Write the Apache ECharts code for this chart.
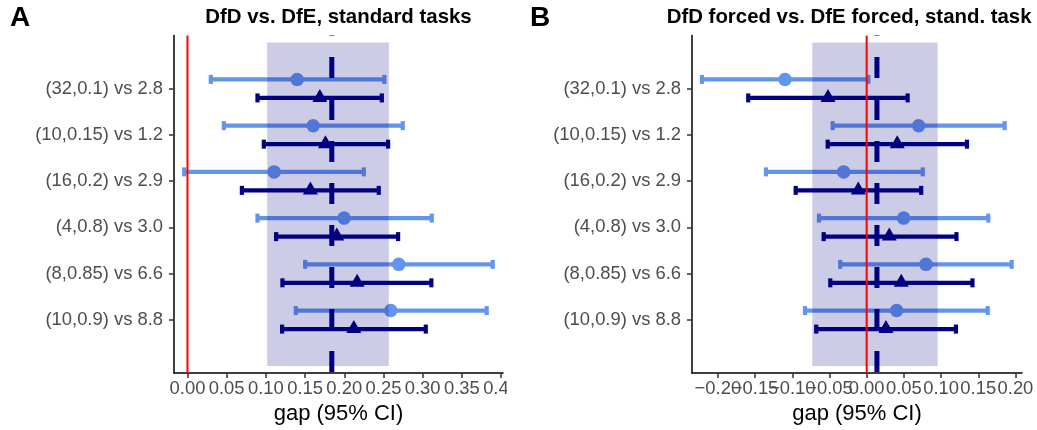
<!DOCTYPE html>
<html>
<head>
<meta charset="utf-8">
<script src="https://cdn.jsdelivr.net/npm/echarts@6/dist/echarts.min.js"></script>
<style>
  html, body { margin: 0; padding: 0; background: #fff; }
  #chart { width: 1037px; height: 430px; }
</style>
</head>
<body>
<div id="chart"></div>
<script>
// Comparisons, listed top to bottom
const rowLabels = ["(32,0.1) vs 2.8", "(10,0.15) vs 1.2", "(16,0.2) vs 2.9",
                   "(4,0.8) vs 3.0", "(8,0.85) vs 6.6", "(10,0.9) vs 8.8"];

// Panel A: DfD vs. DfE, standard tasks
const aLightLo  = [0.0298, 0.0464, -0.0042, 0.0893, 0.1501, 0.1382];
const aLightEst = [0.1399, 0.1603, 0.1105, 0.1998, 0.2695, 0.2593];
const aLightHi  = [0.2512, 0.2746, 0.2249, 0.3116, 0.3894, 0.3817];
const aDarkLo   = [0.0893, 0.0974, 0.0694, 0.1131, 0.1211, 0.1207];
const aDarkEst  = [0.1688, 0.1760, 0.1568, 0.1905, 0.2164, 0.2122];
const aDarkHi   = [0.2479, 0.2559, 0.2440, 0.2687, 0.3111, 0.3040];
const aBand = [0.1016, 0.2568];
const aMean = 0.1841;
const aTicks = [0, 0.05, 0.10, 0.15, 0.20, 0.25, 0.30, 0.35, 0.40];

// Panel B: DfD forced vs. DfE forced, standard task
const bLightLo  = [-0.2214, -0.0457, -0.1354, -0.0641, -0.0355, -0.0829];
const bLightEst = [-0.1098, 0.0699, -0.0309, 0.0497, 0.0797, 0.0403];
const bLightHi  = [0.0022, 0.1855, 0.0754, 0.1635, 0.1949, 0.1627];
const bDarkLo   = [-0.1592, -0.0524, -0.0954, -0.0578, -0.0489, -0.0678];
const bDarkEst  = [-0.0520, 0.0411, -0.0113, 0.0304, 0.0465, 0.0259];
const bDarkHi   = [0.0551, 0.1348, 0.0733, 0.1207, 0.1422, 0.1200];
const bBand = [-0.0731, 0.0954];
const bMean = 0.0138;
const bTicks = [-0.20, -0.15, -0.10, -0.05, 0, 0.05, 0.10, 0.15, 0.20];

// Axis limits
const xLimA = [-0.0172, 0.4025];
const xLimB = [-0.2348, 0.2088];
const yLim = [-1.15, 6.15];
const bandYSpan = [-1.0, 6.0];
const dodge = 0.2;

const LIGHT = '#6495ED';
const DARK = '#000080';
const FONT = '"Liberation Sans", Arial, Helvetica, sans-serif';
const TICK_FONT = 18.4;

const n = rowLabels.length;
const rowPos = i => n - 1 - i;

function barData(lo, est, hi, offset) {
  return lo.map((v, i) => [v, est[i], hi[i], rowPos(i) + offset]);
}
function pointData(est, offset) {
  return est.map((v, i) => [v, rowPos(i) + offset]);
}

function renderBar(params, api) {
  const y = api.value(3);
  const a = api.coord([api.value(0), y]);
  const b = api.coord([api.value(2), y]);
  const c = 4.5;
  const style = { stroke: api.visual('color'), lineWidth: 4.2, lineCap: 'butt' };
  return {
    type: 'group',
    children: [
      { type: 'line', shape: { x1: a[0], y1: a[1], x2: b[0], y2: b[1] }, style },
      { type: 'line', shape: { x1: a[0], y1: a[1] - c, x2: a[0], y2: a[1] + c }, style },
      { type: 'line', shape: { x1: b[0], y1: b[1] - c, x2: b[0], y2: b[1] + c }, style }
    ]
  };
}

function renderBand(params, api) {
  const p1 = api.coord([api.value(0), api.value(3)]);
  const p2 = api.coord([api.value(1), api.value(2)]);
  return {
    type: 'rect',
    shape: { x: p1[0], y: p1[1], width: p2[0] - p1[0], height: p2[1] - p1[1] },
    style: { fill: 'rgba(0,0,128,0.2)' }
  };
}

// Vertical reference line, drawn upward from the bottom of the panel
function makeVLine(width, color, dash) {
  return function (params, api) {
    const bottom = api.coord([api.value(0), api.value(1)]);
    const top = api.coord([api.value(0), api.value(2)]);
    return {
      type: 'line',
      shape: { x1: bottom[0], y1: bottom[1], x2: top[0], y2: top[1] },
      style: { stroke: color, lineWidth: width, lineDash: dash, lineDashOffset: dash ? 41 : 0, lineCap: 'butt' }
    };
  };
}

function fmtX(v) {
  const s = Math.abs(v).toFixed(2);
  return v < -1e-9 ? '\u2212' + s : s;
}

const labelStyle = {
  formatter: fmtX, margin: 7,
  hideOverlap: false, showMinLabel: true, showMaxLabel: true,
  fontFamily: FONT, fontSize: TICK_FONT, color: '#4D4D4D'
};

function xAxisFor(gridIndex, lim, ticks, labelTicks) {
  return {
    type: 'value', gridIndex, min: lim[0], max: lim[1], position: 'bottom',
    name: 'gap (95% CI)', nameLocation: 'middle', nameGap: 30,
    nameTextStyle: { fontFamily: FONT, fontSize: 22, color: '#000' },
    axisLine: { show: true, onZero: false, lineStyle: { color: '#000', width: 1.5 } },
    axisTick: { show: true, length: 5, customValues: ticks, lineStyle: { color: '#333', width: 1.5 } },
    axisLabel: Object.assign({ customValues: labelTicks }, labelStyle),
    splitLine: { show: false }
  };
}

// Second, label-only axis on the same grid: carries the labels that sit
// between the main ones, so tightly packed labels are all drawn.
function xLabelAxisFor(gridIndex, lim, labelTicks) {
  return {
    type: 'value', gridIndex, min: lim[0], max: lim[1], position: 'bottom', offset: 0,
    axisLine: { show: false, onZero: false },
    axisTick: { show: false },
    axisLabel: Object.assign({ customValues: labelTicks }, labelStyle),
    splitLine: { show: false }
  };
}

const yTicks = rowLabels.map((_, i) => rowPos(i));

function yAxisFor(gridIndex) {
  return {
    type: 'value', gridIndex, min: yLim[0], max: yLim[1],
    axisLine: { show: true, onZero: false, lineStyle: { color: '#000', width: 1.5 } },
    axisTick: { show: true, length: 5, customValues: yTicks, lineStyle: { color: '#333', width: 1.5 } },
    axisLabel: {
      customValues: yTicks,
      formatter: v => rowLabels[n - 1 - Math.round(v)],
      hideOverlap: false,
      margin: 11, fontFamily: FONT, fontSize: TICK_FONT, color: '#4D4D4D'
    },
    splitLine: { show: false }
  };
}

function panelSeries(idx, lLo, lEst, lHi, dLo, dEst, dHi, band, mean) {
  const axes = { xAxisIndex: idx, yAxisIndex: idx };
  return [
    Object.assign({
      type: 'custom', name: 'light bars', color: LIGHT, z: 2,
      renderItem: renderBar, encode: { x: [0, 2], y: 3 },
      data: barData(lLo, lEst, lHi, dodge)
    }, axes),
    Object.assign({
      type: 'custom', name: 'dark bars', color: DARK, z: 2,
      renderItem: renderBar, encode: { x: [0, 2], y: 3 },
      data: barData(dLo, dEst, dHi, -dodge)
    }, axes),
    Object.assign({
      type: 'scatter', name: 'light points', z: 3,
      symbol: 'circle', symbolSize: 13.5,
      itemStyle: { color: LIGHT, opacity: 1 },
      data: pointData(lEst, dodge)
    }, axes),
    Object.assign({
      type: 'scatter', name: 'dark points', z: 3,
      symbol: 'triangle', symbolSize: [15, 13], symbolOffset: [0, -2.5],
      itemStyle: { color: DARK, opacity: 1 },
      data: pointData(dEst, -dodge)
    }, axes),
    Object.assign({
      type: 'custom', name: 'band', z: 4,
      renderItem: renderBand, encode: { x: [0, 1], y: [2, 3] },
      data: [[band[0], band[1], bandYSpan[0], bandYSpan[1]]]
    }, axes),
    Object.assign({
      type: 'custom', name: 'mean', z: 5,
      renderItem: makeVLine(5, DARK, [21, 21]), encode: { x: 0, y: [1, 2] },
      data: [[mean, yLim[0], yLim[1]]]
    }, axes),
    Object.assign({
      type: 'custom', name: 'zero', z: 6,
      renderItem: makeVLine(2, '#FF0000', null), encode: { x: 0, y: [1, 2] },
      data: [[0, yLim[0], yLim[1]]]
    }, axes)
  ];
}

const bTicksEven = bTicks.filter((_, i) => i % 2 === 0);
const bTicksOdd = bTicks.filter((_, i) => i % 2 === 1);

const chart = echarts.init(document.getElementById('chart'), null, { renderer: 'canvas' });

chart.setOption({
  animation: false,
  backgroundColor: '#fff',
  grid: [
    { left: 174, right: 534, top: 35.5, bottom: 57, outerBoundsMode: 'none' },
    { left: 692, right: 15, top: 35.5, bottom: 57, outerBoundsMode: 'none' }
  ],
  xAxis: [
    xAxisFor(0, xLimA, aTicks, aTicks),
    xAxisFor(1, xLimB, bTicks, bTicksEven),
    xLabelAxisFor(1, xLimB, bTicksOdd)
  ],
  yAxis: [yAxisFor(0), yAxisFor(1)],
  series: [
    ...panelSeries(0, aLightLo, aLightEst, aLightHi, aDarkLo, aDarkEst, aDarkHi, aBand, aMean),
    ...panelSeries(1, bLightLo, bLightEst, bLightHi, bDarkLo, bDarkEst, bDarkHi, bBand, bMean)
  ],
  graphic: [
    // panel A's area ends here, so the last tick label is cut at its edge
    { type: 'rect', left: 507, top: 378, shape: { width: 14, height: 24 }, style: { fill: '#fff' }, z: 100 },
    { type: 'text', x: 10, y: 18, style: { text: 'A', font: 'bold 28px ' + FONT, fill: '#000', textAlign: 'left', textVerticalAlign: 'middle' }, z: 100 },
    { type: 'text', x: 530, y: 18, style: { text: 'B', font: 'bold 28px ' + FONT, fill: '#000', textAlign: 'left', textVerticalAlign: 'middle' }, z: 100 },
    { type: 'text', x: 338.5, y: 17.5, style: { text: 'DfD vs. DfE, standard tasks', font: 'bold 20.4px ' + FONT, fill: '#000', textAlign: 'center', textVerticalAlign: 'middle' }, z: 100 },
    { type: 'text', x: 666.7, y: 17.5, style: { text: 'DfD forced vs. DfE forced, stand. task', font: 'bold 20.4px ' + FONT, fill: '#000', textAlign: 'left', textVerticalAlign: 'middle' }, z: 100 }
  ]
});
</script>
</body>
</html>
